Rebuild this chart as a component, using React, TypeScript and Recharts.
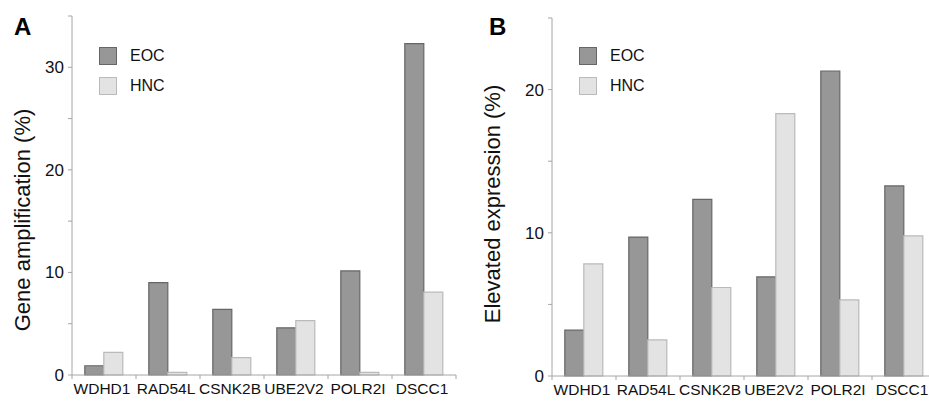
import { BarChart, Bar, XAxis, YAxis, Legend } from "recharts";

const genes = ["WDHD1", "RAD54L", "CSNK2B", "UBE2V2", "POLR2I", "DSCC1"];

// panel A: gene amplification (%)
const eocAmplification = [0.9, 9.0, 6.4, 4.6, 10.15, 32.3];
const hncAmplification = [2.2, 0.26, 1.7, 5.3, 0.25, 8.07];
const amplificationTicks = [0, 5, 10, 15, 20, 25, 30, 35];

// panel B: elevated expression (%)
const eocExpression = [3.2, 9.7, 12.33, 6.92, 21.3, 13.27];
const hncExpression = [7.83, 2.52, 6.18, 18.32, 5.31, 9.79];
const expressionTicks = [0, 5, 10, 15, 20, 25];

const seriesNames = ["EOC", "HNC"];

const amplificationData = genes.map((g, i) => ({
  gene: g,
  EOC: eocAmplification[i],
  HNC: hncAmplification[i],
}));
const expressionData = genes.map((g, i) => ({
  gene: g,
  EOC: eocExpression[i],
  HNC: hncExpression[i],
}));

const AXIS = "#a6a6a6";
const EOC_FILL = "#979797";
const EOC_STROKE = "#666666";
const HNC_FILL = "#e3e3e3";
const HNC_STROKE = "#bababa";
const PLOT_W = 384;
const H = 401;

function GeneTick(props: any) {
  const { x, payload, axisY } = props;
  const half = PLOT_W / genes.length / 2;
  const last = payload.value === genes[genes.length - 1];
  return (
    <g>
      <line x1={x - half} x2={x - half} y1={axisY} y2={axisY + 4} stroke={AXIS} />
      {last && <line x1={x + half} x2={x + half} y1={axisY} y2={axisY + 4} stroke={AXIS} />}
      <text x={x - 2} y={axisY + 19} textAnchor="middle" fontSize={15.5} fill="#111">
        {payload.value}
      </text>
    </g>
  );
}

function LegendBlock() {
  const fills = [
    [EOC_FILL, EOC_STROKE],
    [HNC_FILL, HNC_STROKE],
  ];
  return (
    <div>
      {seriesNames.map((name, i) => (
        <div key={name} style={{ display: "flex", alignItems: "center", height: 30 }}>
          <div
            style={{
              width: 16,
              height: 16,
              background: fills[i][0],
              border: `1.5px solid ${fills[i][1]}`,
            }}
          />
          <span style={{ marginLeft: 13, fontSize: 16, color: "#111" }}>{name}</span>
        </div>
      ))}
    </div>
  );
}

interface PanelProps {
  data: { gene: string; EOC: number; HNC: number }[];
  ticks: number[];
  letter: string;
  yLabel: string;
  labelCenterY: number;
  margin: { top: number; right: number; bottom: number; left: number };
  xAxisHeight: number;
  legendLeft: number;
  letterX: number;
}

function Panel({ data, ticks, letter, yLabel, labelCenterY, margin, xAxisHeight, legendLeft, letterX }: PanelProps) {
  const axisY = H - margin.bottom - xAxisHeight;
  return (
    <BarChart width={470} height={H} data={data} margin={margin} barCategoryGap="20%" barGap={0}>
      <XAxis
        dataKey="gene"
        height={xAxisHeight}
        stroke={AXIS}
        tickLine={false}
        interval={0}
        tick={(p: any) => <GeneTick {...p} axisY={axisY} />}
      />
      <YAxis
        type="number"
        width={60}
        domain={[ticks[0], ticks[ticks.length - 1]]}
        ticks={ticks}
        interval={0}
        stroke={AXIS}
        tickSize={4}
        tickMargin={4}
        tick={{ fill: "#111", fontSize: 17 }}
        tickFormatter={(v: number) => (v % 10 === 0 ? String(v) : "")}
        label={{
          content: () => (
            <g>
              <text x={letterX} y={35} fontSize={24} fontWeight="bold" fill="#000">
                {letter}
              </text>
              <text
                x={30}
                y={labelCenterY}
                transform={`rotate(-90, 30, ${labelCenterY})`}
                textAnchor="middle"
                fontSize={22}
                fill="#111"
              >
                {yLabel}
              </text>
            </g>
          ),
        }}
      />
      <Legend
        layout="vertical"
        align="center"
        verticalAlign="middle"
        wrapperStyle={{ left: legendLeft, top: 41, width: "auto", height: "auto" }}
        content={() => <LegendBlock />}
      />
      <Bar dataKey="EOC" fill={EOC_FILL} stroke={EOC_STROKE} strokeWidth={1.2} isAnimationActive={false} />
      <Bar dataKey="HNC" fill={HNC_FILL} stroke={HNC_STROKE} strokeWidth={1.2} isAnimationActive={false} />
    </BarChart>
  );
}

export default function App() {
  return (
    <div
      style={{
        position: "fixed",
        left: 0,
        top: 0,
        width: 929,
        height: H,
        overflow: "hidden",
        background: "#fff",
        fontFamily: "'Liberation Sans', Arial, sans-serif",
      }}
    >
      <div style={{ position: "absolute", left: 0, top: 0 }}>
        <Panel
          data={amplificationData}
          ticks={amplificationTicks}
          letter="A"
          yLabel="Gene amplification (%)"
          labelCenterY={220}
          margin={{ top: 16, right: 14, bottom: 0, left: 12 }}
          xAxisHeight={26}
          legendLeft={99}
          letterX={14}
        />
      </div>
      <div style={{ position: "absolute", left: 470, top: 0 }}>
        <Panel
          data={expressionData}
          ticks={expressionTicks}
          letter="B"
          yLabel="Elevated expression (%)"
          labelCenterY={204}
          margin={{ top: 18, right: 4, bottom: 0, left: 22 }}
          xAxisHeight={25}
          legendLeft={109}
          letterX={19}
        />
      </div>
    </div>
  );
}
